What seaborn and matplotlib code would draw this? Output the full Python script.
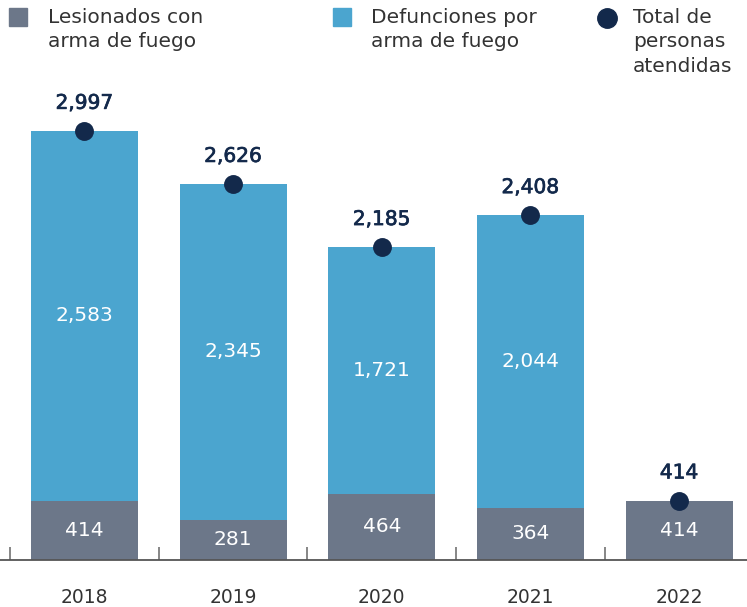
import matplotlib
matplotlib.use("Agg")
import matplotlib.pyplot as plt
import matplotlib.patheffects as pe
import seaborn as sns
import pandas as pd
from matplotlib.patches import Rectangle
from matplotlib.lines import Line2D

years = ["2018", "2019", "2020", "2021", "2022"]
lesionados = [414, 281, 464, 364, 414]
defunciones = [2583, 2345, 1721, 2044, 0]
totales = [2997, 2626, 2185, 2408, 414]

gray = "#6c7789"
blue = "#4ba5cf"
navy = "#13294b"
txt = "#333333"

sns.set_theme(style="white")
plt.rcParams["font.family"] = ["DejaVu Sans"]

df = pd.DataFrame({"year": years, "les": lesionados, "def": defunciones, "tot": totales})
df["stack"] = df["les"] + df["def"]

fig = plt.figure(figsize=(7.47, 6.07), dpi=100)
ax = fig.add_axes([0, 1 - 560 / 607, 1, 560 / 607 - 0.02])

sns.barplot(data=df, x="year", y="stack", color=blue, width=0.72, saturation=1, linewidth=0, ax=ax)
sns.barplot(data=df, x="year", y="les", color=gray, width=0.72, saturation=1, linewidth=0, ax=ax)
ax.scatter(range(len(years)), df["tot"], s=185, color=navy, zorder=5, linewidths=0)

bold = [pe.withStroke(linewidth=0.5, foreground=navy)]
for i, r in df.iterrows():
    ax.text(i, r["les"] / 2, f"{r['les']:,}", ha="center", va="center", color="white", fontsize=14.5)
    if r["def"] > 0:
        ax.text(i, r["les"] + r["def"] / 2, f"{r['def']:,}", ha="center", va="center", color="white", fontsize=14.5)
    ax.annotate(f"{r['tot']:,}", (i, r["tot"]), xytext=(0, 20), textcoords="offset points",
                ha="center", va="center", color=navy, fontsize=14.5, path_effects=bold)

# y scale: 2997 -> 429 px above baseline
ax.set_ylim(0, (560 - 12) / 429 * 2997)
ax.set_xlim(-0.5 - 10 / 148.7, -0.5 + 737 / 148.7)
ax.set_xlabel("")
ax.set_ylabel("")
ax.set_yticks([])
for s in ["top", "right", "left"]:
    ax.spines[s].set_visible(False)
ax.spines["bottom"].set_color("#555555")
ax.spines["bottom"].set_linewidth(1.3)
ax.set_xticks([i - 0.5 for i in range(len(years))], minor=True)
ax.tick_params(axis="x", which="major", bottom=False, length=0, pad=20, labelsize=13.5, labelcolor=txt)
ax.tick_params(axis="x", which="minor", bottom=True, direction="in", length=9.5, width=1.1, color="#666666")

# legend drawn by hand
fs = 14.5
ls = 1.36
top = 1 - 8 / 607
fig.add_artist(Rectangle((9 / 747, 1 - 26 / 607), 18 / 747, 18 / 607, transform=fig.transFigure, color=gray))
fig.text(48 / 747, top, "Lesionados con\narma de fuego", va="top", ha="left",
         fontsize=fs, color=txt, linespacing=ls)
fig.add_artist(Rectangle((333 / 747, 1 - 26 / 607), 18 / 747, 18 / 607, transform=fig.transFigure, color=blue))
fig.text(371 / 747, top, "Defunciones por\narma de fuego", va="top", ha="left",
         fontsize=fs, color=txt, linespacing=ls)
fig.add_artist(Line2D([607 / 747], [1 - 17.5 / 607], marker="o", markersize=14, color=navy,
                      transform=fig.transFigure, linestyle="none"))
fig.text(633 / 747, top, "Total de\npersonas\natendidas", va="top", ha="left",
         fontsize=fs, color=txt, linespacing=ls)

fig.savefig("out.png", dpi=100)
